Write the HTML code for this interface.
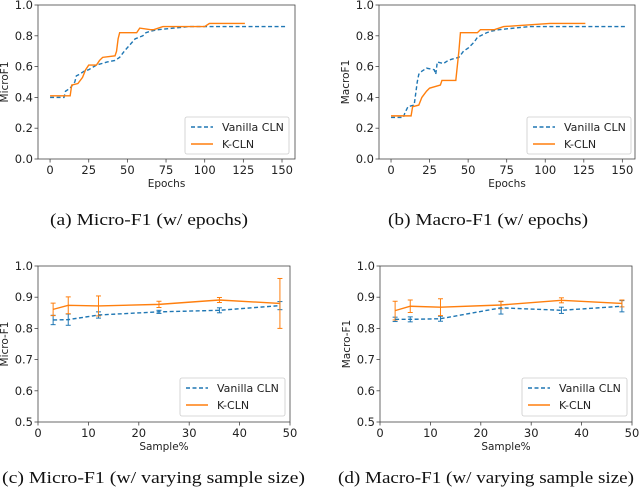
<!DOCTYPE html>
<html><head><meta charset="utf-8">
<style>
html,body{margin:0;padding:0;background:#fff;}
svg{display:block;}
text{font-family:"DejaVu Sans","Liberation Sans",sans-serif;fill:#222;}
.cap{font-family:"Liberation Serif","DejaVu Serif",serif;font-size:16.5px;fill:#111;}
</style></head>
<body>
<svg id="fig" width="640" height="489" viewBox="0 0 640 489" xmlns="http://www.w3.org/2000/svg">
<text class="cap" x="50" y="225" textLength="198" lengthAdjust="spacingAndGlyphs">(a) Micro-F1 (w/ epochs)</text>
<text class="cap" x="388" y="225" textLength="200" lengthAdjust="spacingAndGlyphs">(b) Macro-F1 (w/ epochs)</text>
<text class="cap" x="2" y="483" textLength="303" lengthAdjust="spacingAndGlyphs">(c) Micro-F1 (w/ varying sample size)</text>
<text class="cap" x="338" y="483" textLength="296" lengthAdjust="spacingAndGlyphs">(d) Macro-F1 (w/ varying sample size)</text>
</svg>
<script>
// ---- data ----
const epochTicks = [0,25,50,75,100,125,150];
const epochYTicks = [0.0,0.2,0.4,0.6,0.8,1.0];
const aVanX = [0,9,10,13,16,17,19,22,25,30,37,42,45,48,55,60,62,65,70,80,90,153];
const aVanY = [0.40,0.40,0.44,0.46,0.50,0.54,0.55,0.57,0.58,0.61,0.63,0.64,0.66,0.70,0.78,0.80,0.82,0.83,0.84,0.85,0.86,0.86];
const aKX = [0,13,14,18,21,23,25,30,32,34,42,43,44,45,56,58,65,67,73,100,103,126];
const aKY = [0.41,0.41,0.48,0.49,0.53,0.58,0.61,0.61,0.64,0.66,0.67,0.70,0.78,0.82,0.82,0.85,0.84,0.84,0.86,0.86,0.88,0.88];
const bVanX = [0,8,9,11,15,17,18,20,23,28,29,30,34,37,40,44,47,50,54,56,62,65,70,80,90,153];
const bVanY = [0.27,0.27,0.30,0.34,0.35,0.50,0.55,0.57,0.59,0.58,0.55,0.63,0.62,0.64,0.65,0.66,0.70,0.72,0.76,0.79,0.82,0.83,0.84,0.85,0.86,0.86];
const bKX = [0,13,14,18,20,23,25,32,33,42,44,45,56,58,67,73,103,126];
const bKY = [0.28,0.28,0.34,0.35,0.40,0.44,0.46,0.48,0.51,0.51,0.70,0.82,0.82,0.84,0.84,0.86,0.88,0.88];
const sampleX = [3,6,12,24,36,48];
const sampleTicks = [0,10,20,30,40,50];
const sampleYTicks = [0.5,0.6,0.7,0.8,0.9,1.0];
const cVan = [0.827,0.828,0.843,0.853,0.858,0.873];
const cVanErr = [0.015,0.018,0.010,0.005,0.008,0.013];
const cK = [0.861,0.874,0.872,0.877,0.891,0.880];
const cKErr = [0.020,0.027,0.032,0.010,0.008,0.080];
const dVan = [0.829,0.829,0.831,0.866,0.858,0.871];
const dVanErr = [0.007,0.008,0.008,0.020,0.010,0.018];
const dK = [0.857,0.871,0.868,0.875,0.890,0.880];
const dKErr = [0.030,0.020,0.027,0.012,0.008,0.011];

const NS = "http://www.w3.org/2000/svg";
const svg = document.getElementById('fig');
const BLUE = "#1f77b4", ORANGE = "#ff7f0e";
function mk(tag, attrs, parent){
  const e = document.createElementNS(NS, tag);
  for (const k in attrs) e.setAttribute(k, attrs[k]);
  (parent||svg).appendChild(e);
  return e;
}
function panel(id, box, xd, yd, xt, yt, ylab, xlab, yfmt, legBox){
  const g = mk('g', {});
  
  
  const sx = v => box.l + (v - xd[0]) / (xd[1] - xd[0]) * (box.r - box.l);
  const sy = v => box.b - (v - yd[0]) / (yd[1] - yd[0]) * (box.b - box.t);
  const frame = mk('rect', {x:box.l, y:box.t, width:box.r-box.l, height:box.b-box.t, fill:'none', stroke:'#444', 'stroke-width':0.8}, g);
  
  
  xt.forEach(v => {
    const x = sx(v);
    mk('line', {x1:x, x2:x, y1:box.b, y2:box.b+3.5, stroke:'#444', 'stroke-width':0.8}, g);
    const t = mk('text', {x:x, y:box.b+15, 'font-size':11.5, 'text-anchor':'middle'}, g);
    t.textContent = v;
    
    
  });
  yt.forEach(v => {
    const y = sy(v);
    mk('line', {x1:box.l-3.5, x2:box.l, y1:y, y2:y, stroke:'#444', 'stroke-width':0.8}, g);
    const t = mk('text', {x:box.l-5, y:y+4, 'font-size':11.5, 'text-anchor':'end'}, g);
    t.textContent = v.toFixed(1);
    
    
  });
  const xl = mk('text', {x:(box.l+box.r)/2, y:box.b+28, 'font-size':10.5, 'text-anchor':'middle'}, g);
  xl.textContent = xlab;
  
  
  const yx = box.l - 30, yy = (box.t+box.b)/2;
  const yl = mk('text', {x:yx, y:yy, 'font-size':10.5, 'text-anchor':'middle', transform:`rotate(-90 ${yx} ${yy})`}, g);
  yl.textContent = ylab;
  
  
  // legend
  const lg = mk('g', {}, g);
  
  
  mk('rect', {x:legBox.x, y:legBox.y, width:legBox.w, height:legBox.h, rx:2, fill:'#fff', 'fill-opacity':0.85, stroke:'#ccc', 'stroke-width':0.8}, lg);
  const ent = [['Vanilla CLN', BLUE, '4,2.5'], ['K-CLN', ORANGE, '']];
  ent.forEach((e, i) => {
    const y = legBox.y + 10 + i*17;
    const ln = mk('line', {x1:legBox.x+6, x2:legBox.x+28, y1:y, y2:y, stroke:e[1], 'stroke-width':1.5, 'stroke-dasharray':e[2]||'none'}, lg);
    
    
    const t = mk('text', {x:legBox.x+37, y:y+4, 'font-size':11}, lg);
    t.textContent = e[0];
    
    
  });
  return {g, sx, sy};
}
function line(p, xs, ys, color, dash, name){
  const pts = xs.map((x,i) => p.sx(x).toFixed(2) + ',' + p.sy(ys[i]).toFixed(2)).join(' ');
  const pl = mk('polyline', {points:pts, fill:'none', stroke:color, 'stroke-width':1.4, 'stroke-dasharray':dash||'none'}, p.g);
  
  
}
function errs(p, xs, ys, es, color, name){
  xs.forEach((x,i) => {
    const X = p.sx(x), y1 = p.sy(ys[i]-es[i]), y2 = p.sy(ys[i]+es[i]);
    const eg = mk('g', {stroke:color, 'stroke-width':1}, p.g);
    
    
    mk('line', {x1:X, x2:X, y1:y1, y2:y2}, eg);
    mk('line', {x1:X-2.5, x2:X+2.5, y1:y1, y2:y1}, eg);
    mk('line', {x1:X-2.5, x2:X+2.5, y1:y2, y2:y2}, eg);
  });
}
// panel a
const xdA = [-7.8, 158.4];
const pa = panel('a', {l:38,r:295,t:5,b:159}, xdA, [0,1], epochTicks, epochYTicks, 'MicroF1', 'Epochs', 1, {x:185,y:117,w:104,h:37});
line(pa, aVanX, aVanY, BLUE, '4,2.5', 'vanilla-cln-line');
line(pa, aKX, aKY, ORANGE, '', 'k-cln-line');
// panel b
const xdB = [-7.8, 158.2];
const pb = panel('b', {l:379,r:635,t:5,b:159}, xdB, [0,1], epochTicks, epochYTicks, 'MacroF1', 'Epochs', 1, {x:527,y:117,w:104,h:37});
line(pb, bVanX, bVanY, BLUE, '4,2.5', 'vanilla-cln-line');
line(pb, bKX, bKY, ORANGE, '', 'k-cln-line');
// panel c
const pc = panel('c', {l:38,r:290,t:266,b:422}, [0,50], [0.5,1.0], sampleTicks, sampleYTicks, 'Micro-F1', 'Sample%', 1, {x:180,y:378,w:105,h:38});
errs(pc, sampleX, cVan, cVanErr, BLUE, 'vanilla-cln-errorbar');
errs(pc, sampleX, cK, cKErr, ORANGE, 'k-cln-errorbar');
line(pc, sampleX, cVan, BLUE, '4,2.5', 'vanilla-cln-line');
line(pc, sampleX, cK, ORANGE, '', 'k-cln-line');
// panel d
const pd = panel('d', {l:380,r:632,t:266,b:422}, [0,50], [0.5,1.0], sampleTicks, sampleYTicks, 'Macro-F1', 'Sample%', 1, {x:522,y:378,w:105,h:38});
errs(pd, sampleX, dVan, dVanErr, BLUE, 'vanilla-cln-errorbar');
errs(pd, sampleX, dK, dKErr, ORANGE, 'k-cln-errorbar');
line(pd, sampleX, dVan, BLUE, '4,2.5', 'vanilla-cln-line');
line(pd, sampleX, dK, ORANGE, '', 'k-cln-line');
</script>
</body></html>
